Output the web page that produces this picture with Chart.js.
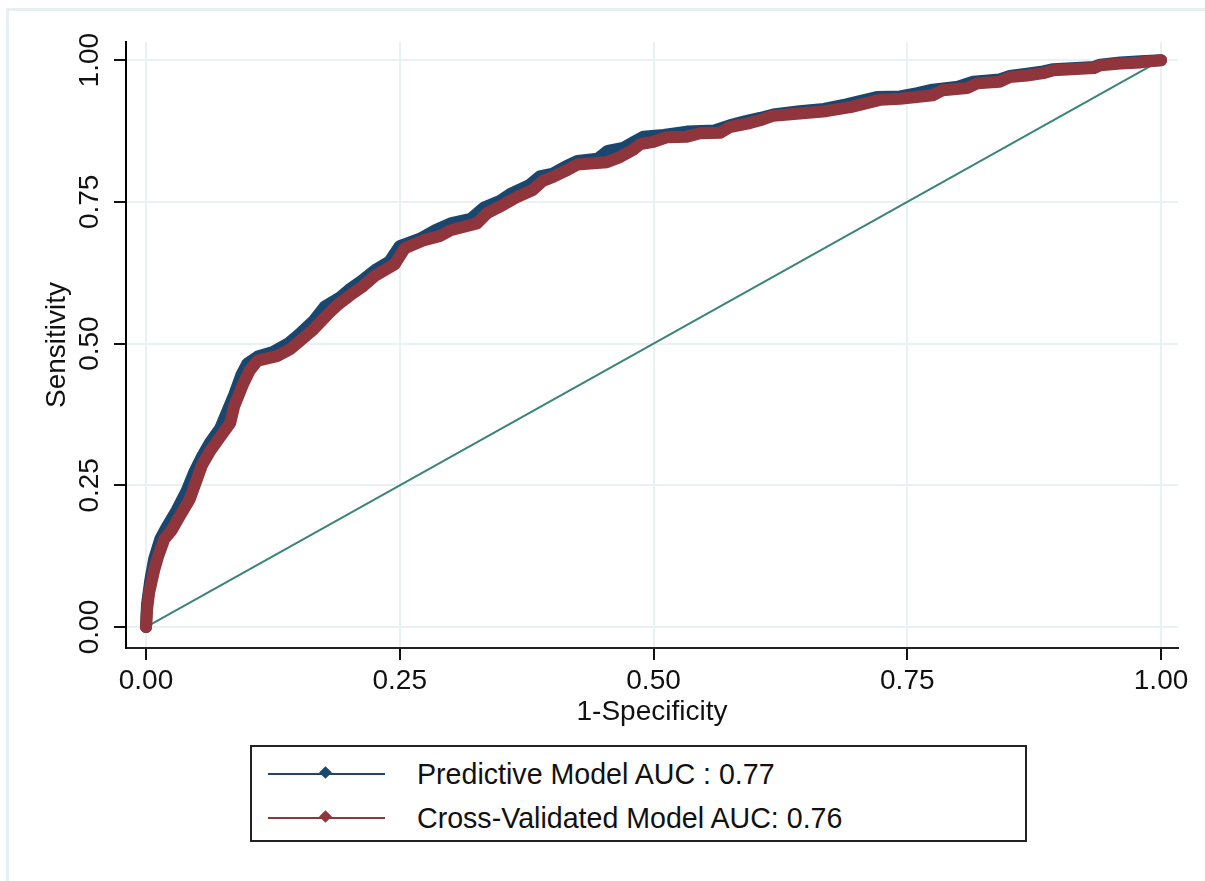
<!DOCTYPE html>
<html>
<head>
<meta charset="utf-8">
<script src="https://cdn.jsdelivr.net/npm/chart.js@4"></script>
<style>
  body { margin: 0; background: #fff; }
  #wrap { position: relative; width: 1205px; height: 881px; overflow: hidden; font-family: "Liberation Sans", Arial, sans-serif; }
  #frame { position: absolute; left: 6px; top: 8px; width: 1300px; height: 1000px; border-top: 3px solid #e8eff1; border-left: 3px solid #e8eff1; }
  #graf { position: absolute; left: 0; top: 0; }
  #legenda { position: absolute; left: 250px; top: 745px; width: 773px; height: 93px; border: 2px solid #222; background: #fff; }
  .linha { position: absolute; left: 16px; height: 2px; width: 117px; }
  .diamante { position: absolute; left: 53px; top: -5px; width: 9px; height: 9px; transform: rotate(45deg); }
  .texto { position: absolute; left: 165px; font-size: 28.6px; line-height: 30px; color: #111; white-space: nowrap; }
</style>
</head>
<body>
<div id="wrap">
  <div id="frame"></div>
  <canvas id="graf" width="1205" height="740"></canvas>
  <div id="legenda">
    <div class="linha" style="top:26px;background:#1a476f"><div class="diamante" style="background:#1a476f"></div></div>
    <div class="texto" style="top:12px">Predictive Model AUC : 0.77</div>
    <div class="linha" style="top:70px;background:#90353b"><div class="diamante" style="background:#90353b"></div></div>
    <div class="texto" style="top:56px">Cross-Validated Model AUC: 0.76</div>
  </div>
</div>
<script>
// curva do modelo preditivo (1-especificidade, sensibilidade)
const fprPred = [0, 0.001, 0.004, 0.008, 0.014, 0.020, 0.030, 0.040, 0.048, 0.055, 0.063, 0.073, 0.080, 0.087, 0.094, 0.100, 0.110, 0.125, 0.140, 0.150,
  0.165, 0.176, 0.190, 0.200, 0.212, 0.226, 0.240, 0.250, 0.270, 0.285, 0.300, 0.320, 0.333, 0.349, 0.360, 0.378, 0.388, 0.401, 0.413, 0.425,
  0.445, 0.455, 0.470, 0.480, 0.490, 0.510, 0.533, 0.560, 0.575, 0.590, 0.605, 0.618, 0.644, 0.668, 0.690, 0.720, 0.743, 0.760, 0.775, 0.800,
  0.815, 0.841, 0.851, 0.868, 0.884, 0.894, 0.934, 0.940, 0.960, 0.980, 1];
const sensPred = [0, 0.04, 0.08, 0.12, 0.155, 0.175, 0.205, 0.24, 0.275, 0.30, 0.325, 0.35, 0.38, 0.41, 0.445, 0.465, 0.477, 0.485, 0.50, 0.515,
  0.54, 0.565, 0.58, 0.595, 0.61, 0.63, 0.645, 0.672, 0.685, 0.70, 0.712, 0.72, 0.74, 0.752, 0.765, 0.78, 0.795, 0.80, 0.812, 0.822,
  0.826, 0.84, 0.845, 0.855, 0.865, 0.868, 0.874, 0.876, 0.885, 0.892, 0.898, 0.904, 0.910, 0.914, 0.922, 0.935, 0.936, 0.942, 0.948, 0.953,
  0.962, 0.966, 0.972, 0.976, 0.98, 0.984, 0.988, 0.992, 0.996, 0.998, 1];

// curva do modelo com validação cruzada
const fprCV = [0, 0.001, 0.003, 0.008, 0.012, 0.018, 0.025, 0.033, 0.043, 0.050, 0.055, 0.063, 0.073, 0.083, 0.087, 0.096, 0.102, 0.110, 0.129, 0.142,
  0.152, 0.165, 0.181, 0.190, 0.201, 0.213, 0.226, 0.245, 0.255, 0.273, 0.290, 0.300, 0.326, 0.336, 0.349, 0.365, 0.381, 0.391, 0.401, 0.415,
  0.425, 0.454, 0.467, 0.480, 0.487, 0.500, 0.513, 0.533, 0.546, 0.566, 0.575, 0.595, 0.605, 0.618, 0.644, 0.670, 0.694, 0.723, 0.743, 0.775,
  0.785, 0.809, 0.819, 0.841, 0.851, 0.868, 0.884, 0.894, 0.934, 0.940, 0.960, 0.980, 1];
const sensCV = [0, 0.03, 0.06, 0.10, 0.125, 0.155, 0.17, 0.195, 0.225, 0.26, 0.285, 0.31, 0.335, 0.36, 0.39, 0.43, 0.452, 0.47, 0.478, 0.49,
  0.505, 0.525, 0.555, 0.57, 0.585, 0.60, 0.62, 0.64, 0.668, 0.682, 0.69, 0.70, 0.712, 0.73, 0.742, 0.758, 0.771, 0.787, 0.794, 0.806,
  0.816, 0.82, 0.829, 0.842, 0.852, 0.856, 0.864, 0.865, 0.871, 0.872, 0.882, 0.889, 0.894, 0.902, 0.906, 0.910, 0.917, 0.930, 0.932, 0.938,
  0.947, 0.951, 0.959, 0.962, 0.970, 0.973, 0.977, 0.982, 0.986, 0.991, 0.994, 0.996, 1];

// linha de referência
const fprRef = [0, 1];
const sensRef = [0, 1];

const marcas = [0, 0.25, 0.5, 0.75, 1];

function pontos(xs, ys) {
  return xs.map((x, i) => ({ x: x, y: ys[i] }));
}

const fonte = { family: '"Liberation Sans", Arial, sans-serif', size: 28 };

const ctx = document.getElementById('graf').getContext('2d');
const grafico = new Chart(ctx, {
  type: 'line',
  data: {
    datasets: [
      { label: 'Cross-Validated', data: pontos(fprCV, sensCV), borderColor: '#90353b', borderWidth: 12,
        borderCapStyle: 'round', borderJoinStyle: 'round', pointRadius: 0, order: 0 },
      { label: 'Predictive', data: pontos(fprPred, sensPred), borderColor: '#1a476f', borderWidth: 12,
        borderCapStyle: 'round', borderJoinStyle: 'round', pointRadius: 0, order: 1 },
      { label: 'Ref', data: pontos(fprRef, sensRef), borderColor: '#3a8478', borderWidth: 2, pointRadius: 0, order: 2 }
    ]
  },
  options: {
    responsive: false,
    animation: false,
    layout: { padding: { left: 0, top: 42, right: 27, bottom: 0 } },
    plugins: { legend: { display: false }, tooltip: { enabled: false } },
    scales: {
      x: {
        type: 'linear', min: -0.0197, max: 1.0167,
        afterBuildTicks: s => { s.ticks = marcas.map(v => ({ value: v })); },
        afterFit: s => { s.height = 92; },
        ticks: { font: fonte, color: '#111', padding: 4, callback: v => v.toFixed(2) },
        grid: { color: '#eaf1f3', lineWidth: 2, tickLength: 12, tickColor: '#111', tickWidth: 2 },
        border: { color: '#222', width: 2 },
        title: { display: true, text: '1-Specificity', font: fonte, color: '#111', padding: { top: 0, bottom: 11 } }
      },
      y: {
        type: 'linear', min: -0.037, max: 1.032,
        afterBuildTicks: s => { s.ticks = marcas.map(v => ({ value: v })); },
        afterFit: s => { s.width = 126; },
        ticks: { font: fonte, color: '#111', padding: -4, minRotation: 90, maxRotation: 90, crossAlign: 'center',
          callback: v => v.toFixed(2) },
        grid: { color: '#eaf1f3', lineWidth: 2, tickLength: 12, tickColor: '#111', tickWidth: 2 },
        border: { color: '#000', width: 2 },
        title: { display: true, text: 'Sensitivity', font: fonte, color: '#111', padding: { top: 40, bottom: 0 } }
      }
    }
  }
});
</script>
</body>
</html>
